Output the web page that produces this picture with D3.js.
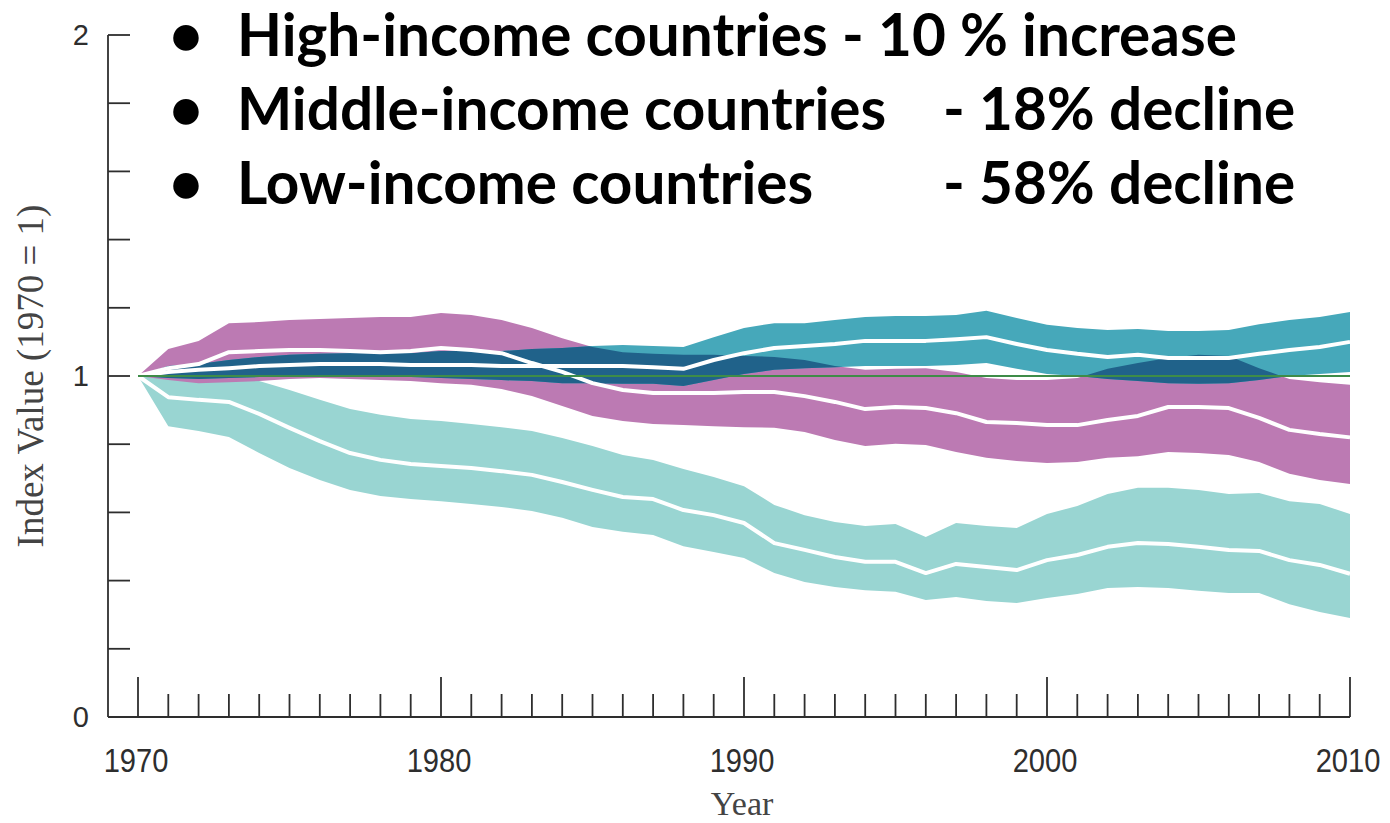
<!DOCTYPE html>
<html>
<head>
<meta charset="utf-8">
<script src="https://cdn.jsdelivr.net/npm/d3@7/dist/d3.min.js"></script>
<style>
  html, body { margin: 0; padding: 0; background: #ffffff; }
  svg { display: block; }
</style>
</head>
<body>
<svg id="chart" width="1390" height="823"></svg>
<script>
// Living Planet Index by country income group, 1970 = 1
const years = d3.range(1970, 2011);

// Low-income countries
const lowUpper = [1.000,0.991,0.991,0.991,0.985,0.959,0.930,0.903,0.886,0.874,0.868,0.859,0.850,0.839,0.818,0.795,0.768,0.754,0.727,0.704,0.677,0.622,0.592,0.572,0.560,0.566,0.528,0.569,0.560,0.554,0.595,0.619,0.654,0.672,0.672,0.666,0.654,0.657,0.633,0.625,0.595];
const lowMean  = [1.000,0.938,0.930,0.924,0.889,0.848,0.809,0.774,0.754,0.742,0.736,0.730,0.721,0.710,0.689,0.666,0.645,0.639,0.607,0.592,0.569,0.510,0.490,0.469,0.455,0.455,0.422,0.449,0.440,0.431,0.460,0.475,0.499,0.510,0.507,0.499,0.490,0.487,0.460,0.446,0.420];
const lowLower = [1.000,0.853,0.839,0.821,0.774,0.730,0.695,0.666,0.648,0.639,0.633,0.625,0.616,0.604,0.584,0.557,0.543,0.534,0.501,0.484,0.466,0.422,0.396,0.381,0.372,0.367,0.343,0.352,0.340,0.334,0.349,0.361,0.378,0.381,0.378,0.370,0.364,0.364,0.331,0.308,0.290];

// Middle-income countries
const midUpper = [1.000,1.079,1.103,1.155,1.158,1.164,1.167,1.170,1.173,1.173,1.185,1.179,1.164,1.141,1.111,1.085,1.070,1.065,1.062,1.062,1.059,1.056,1.047,1.029,1.018,1.021,1.023,1.012,0.994,0.988,0.988,0.994,1.021,1.038,1.053,1.062,1.059,1.023,0.991,0.982,0.974];
const midMean  = [1.000,1.023,1.035,1.070,1.073,1.076,1.076,1.073,1.070,1.073,1.082,1.076,1.067,1.038,1.012,0.979,0.959,0.950,0.950,0.950,0.953,0.953,0.941,0.924,0.903,0.909,0.906,0.891,0.865,0.862,0.856,0.856,0.871,0.883,0.909,0.909,0.906,0.877,0.842,0.830,0.820];
const midLower = [1.000,0.988,0.979,0.982,0.985,0.991,0.994,0.991,0.988,0.985,0.979,0.974,0.962,0.941,0.912,0.883,0.868,0.859,0.856,0.853,0.850,0.848,0.836,0.812,0.795,0.801,0.798,0.777,0.760,0.751,0.745,0.748,0.760,0.765,0.777,0.774,0.768,0.748,0.713,0.695,0.683];

// High-income countries
const highUpper = [1.000,1.029,1.035,1.047,1.056,1.062,1.065,1.067,1.067,1.067,1.073,1.073,1.073,1.079,1.082,1.088,1.091,1.088,1.085,1.114,1.141,1.155,1.155,1.164,1.173,1.176,1.176,1.179,1.191,1.170,1.150,1.141,1.135,1.138,1.132,1.132,1.135,1.152,1.164,1.173,1.188];
const highMean  = [1.000,1.012,1.018,1.023,1.029,1.032,1.035,1.035,1.035,1.032,1.032,1.032,1.029,1.029,1.029,1.029,1.029,1.026,1.021,1.047,1.067,1.082,1.088,1.094,1.103,1.103,1.103,1.108,1.114,1.094,1.076,1.065,1.056,1.062,1.053,1.053,1.053,1.065,1.076,1.085,1.100];
const highLower = [1.000,0.994,0.991,0.994,0.997,1.000,1.000,1.000,1.000,0.997,0.994,0.991,0.988,0.985,0.979,0.979,0.977,0.977,0.971,0.988,1.006,1.018,1.023,1.026,1.029,1.029,1.029,1.032,1.038,1.021,1.006,1.000,0.991,0.985,0.979,0.977,0.979,0.988,1.000,1.006,1.012];

// Axis ticks and labels
const yTicks = [0, 0.2, 0.4, 0.6, 0.8, 1, 1.2, 1.4, 1.6, 1.8, 2];
const yTickLabels = [0, 1, 2];
const xTickLabels = [1970, 1980, 1990, 2000, 2010];

// Headline bullets
const bulletGroups = ["High-income countries", "Middle-income countries", "Low-income countries"];
const bulletChanges = ["- 10 % increase", "- 18% decline", "- 58% decline"];

const colors = {
  low: "#99d5d2",
  mid: "#bc7ab3",
  high: "#46a8ba",
  overlap: "#20628a",
  baseline: "#3e8c48",
  axis: "#2e2e2e"
};

const svg = d3.select("#chart");

const x = d3.scaleLinear().domain([1970, 2010]).range([138, 1350]);
const y = d3.scaleLinear().domain([0, 2]).range([717, 35]);

function bandRows(upper, lower) {
  return years.map((yr, i) => ({ year: yr, hi: upper[i], lo: lower[i] }));
}
function lineRows(vals) {
  return years.map((yr, i) => ({ year: yr, v: vals[i] }));
}

const area = d3.area()
  .x(d => x(d.year))
  .y0(d => y(d.lo))
  .y1(d => y(d.hi))
  .curve(d3.curveLinear);

const line = d3.line()
  .x(d => x(d.year))
  .y(d => y(d.v))
  .curve(d3.curveLinear);

const defs = svg.append("defs");
defs.append("clipPath").attr("id", "midBandClip")
  .append("path").attr("d", area(bandRows(midUpper, midLower)));

const bands = svg.append("g").attr("class", "bands");
bands.append("path").attr("d", area(bandRows(lowUpper, lowLower))).attr("fill", colors.low);
bands.append("path").attr("d", area(bandRows(midUpper, midLower))).attr("fill", colors.mid);
bands.append("path").attr("d", area(bandRows(highUpper, highLower))).attr("fill", colors.high);
// where the high-income band crosses the middle-income band
bands.append("path").attr("d", area(bandRows(highUpper, highLower)))
  .attr("fill", colors.overlap)
  .attr("clip-path", "url(#midBandClip)");

const means = svg.append("g").attr("class", "means")
  .attr("fill", "none").attr("stroke", "#ffffff")
  .attr("stroke-width", 4).attr("stroke-linejoin", "round");
[lowMean, midMean, highMean].forEach(vals => {
  means.append("path").attr("d", line(lineRows(vals)));
});

// reference line at the 1970 level
svg.append("line")
  .attr("x1", x(1970)).attr("x2", x(2010))
  .attr("y1", y(1)).attr("y2", y(1))
  .attr("stroke", colors.baseline).attr("stroke-width", 2);

// Y axis
const axisX = 108;
const yAxis = svg.append("g").attr("stroke", colors.axis).attr("stroke-width", 1.8);
yAxis.append("line").attr("x1", axisX).attr("x2", axisX).attr("y1", y(0)).attr("y2", y(2));
yAxis.selectAll("line.tick").data(yTicks.filter(v => v > 0)).enter().append("line")
  .attr("class", "tick")
  .attr("x1", axisX).attr("x2", axisX + 22)
  .attr("y1", d => y(d)).attr("y2", d => y(d));

svg.append("g").selectAll("text").data(yTickLabels).enter().append("text")
  .attr("x", 89).attr("y", d => y(d))
  .attr("dy", "0.36em")
  .attr("text-anchor", "end")
  .attr("font-family", "'Liberation Sans', Arial, sans-serif")
  .attr("font-size", 29)
  .attr("fill", colors.axis)
  .text(d => d);

// X axis
const xAxis = svg.append("g").attr("stroke", colors.axis).attr("stroke-width", 1.8);
xAxis.append("line").attr("x1", axisX).attr("x2", x(2010)).attr("y1", y(0)).attr("y2", y(0));
xAxis.selectAll("line.tick").data(years).enter().append("line")
  .attr("class", "tick")
  .attr("x1", d => x(d)).attr("x2", d => x(d))
  .attr("y1", y(0))
  .attr("y2", d => y(0) - (d % 10 === 0 ? 40 : 23));

svg.append("g").selectAll("text").data(xTickLabels).enter().append("text")
  .attr("transform", d => `translate(${x(d) - 2}, 772) scale(0.97, 1.1)`)
  .attr("text-anchor", "middle")
  .attr("font-family", "'Liberation Sans', Arial, sans-serif")
  .attr("font-size", 30)
  .attr("fill", colors.axis)
  .text(d => d);

// Axis titles
svg.append("text")
  .attr("x", 742).attr("y", 815)
  .attr("text-anchor", "middle")
  .attr("font-family", "'Liberation Serif', 'Times New Roman', serif")
  .attr("font-size", 34)
  .attr("fill", "#444444")
  .text("Year");

svg.append("text")
  .attr("transform", `translate(43, ${(y(0) + y(2)) / 2}) rotate(-90)`)
  .attr("text-anchor", "middle")
  .attr("font-family", "'Liberation Serif', 'Times New Roman', serif")
  .attr("font-size", 37)
  .attr("fill", "#444444")
  .text("Index Value (1970 = 1)");

// Headline bullets
const bulletFont = "Lato, 'Open Sans', sans-serif";
const textX = 237, changeX = 943, bulletX = 186;
const baselines = [56, 130, 204];
const headline = svg.append("g").attr("font-family", bulletFont).attr("font-weight", 700).attr("fill", "#000000");

// size the type so the first line spans the layout column
const probe = headline.append("text").attr("font-size", 50)
  .text(bulletGroups[0] + " " + bulletChanges[0]);
const probeWidth = probe.node().getComputedTextLength();
probe.remove();
const fontSize = 50 * 1000 / probeWidth;
headline.attr("font-size", fontSize);

bulletGroups.forEach((g, i) => {
  headline.append("text").attr("x", bulletX).attr("y", baselines[i]).attr("text-anchor", "middle").text("\u2022");
  if (i === 0) {
    headline.append("text").attr("x", textX).attr("y", baselines[i]).text(g + " " + bulletChanges[i]);
  } else {
    headline.append("text").attr("x", textX).attr("y", baselines[i]).text(g);
    headline.append("text").attr("x", changeX).attr("y", baselines[i]).text(bulletChanges[i]);
  }
});
</script>
</body>
</html>
